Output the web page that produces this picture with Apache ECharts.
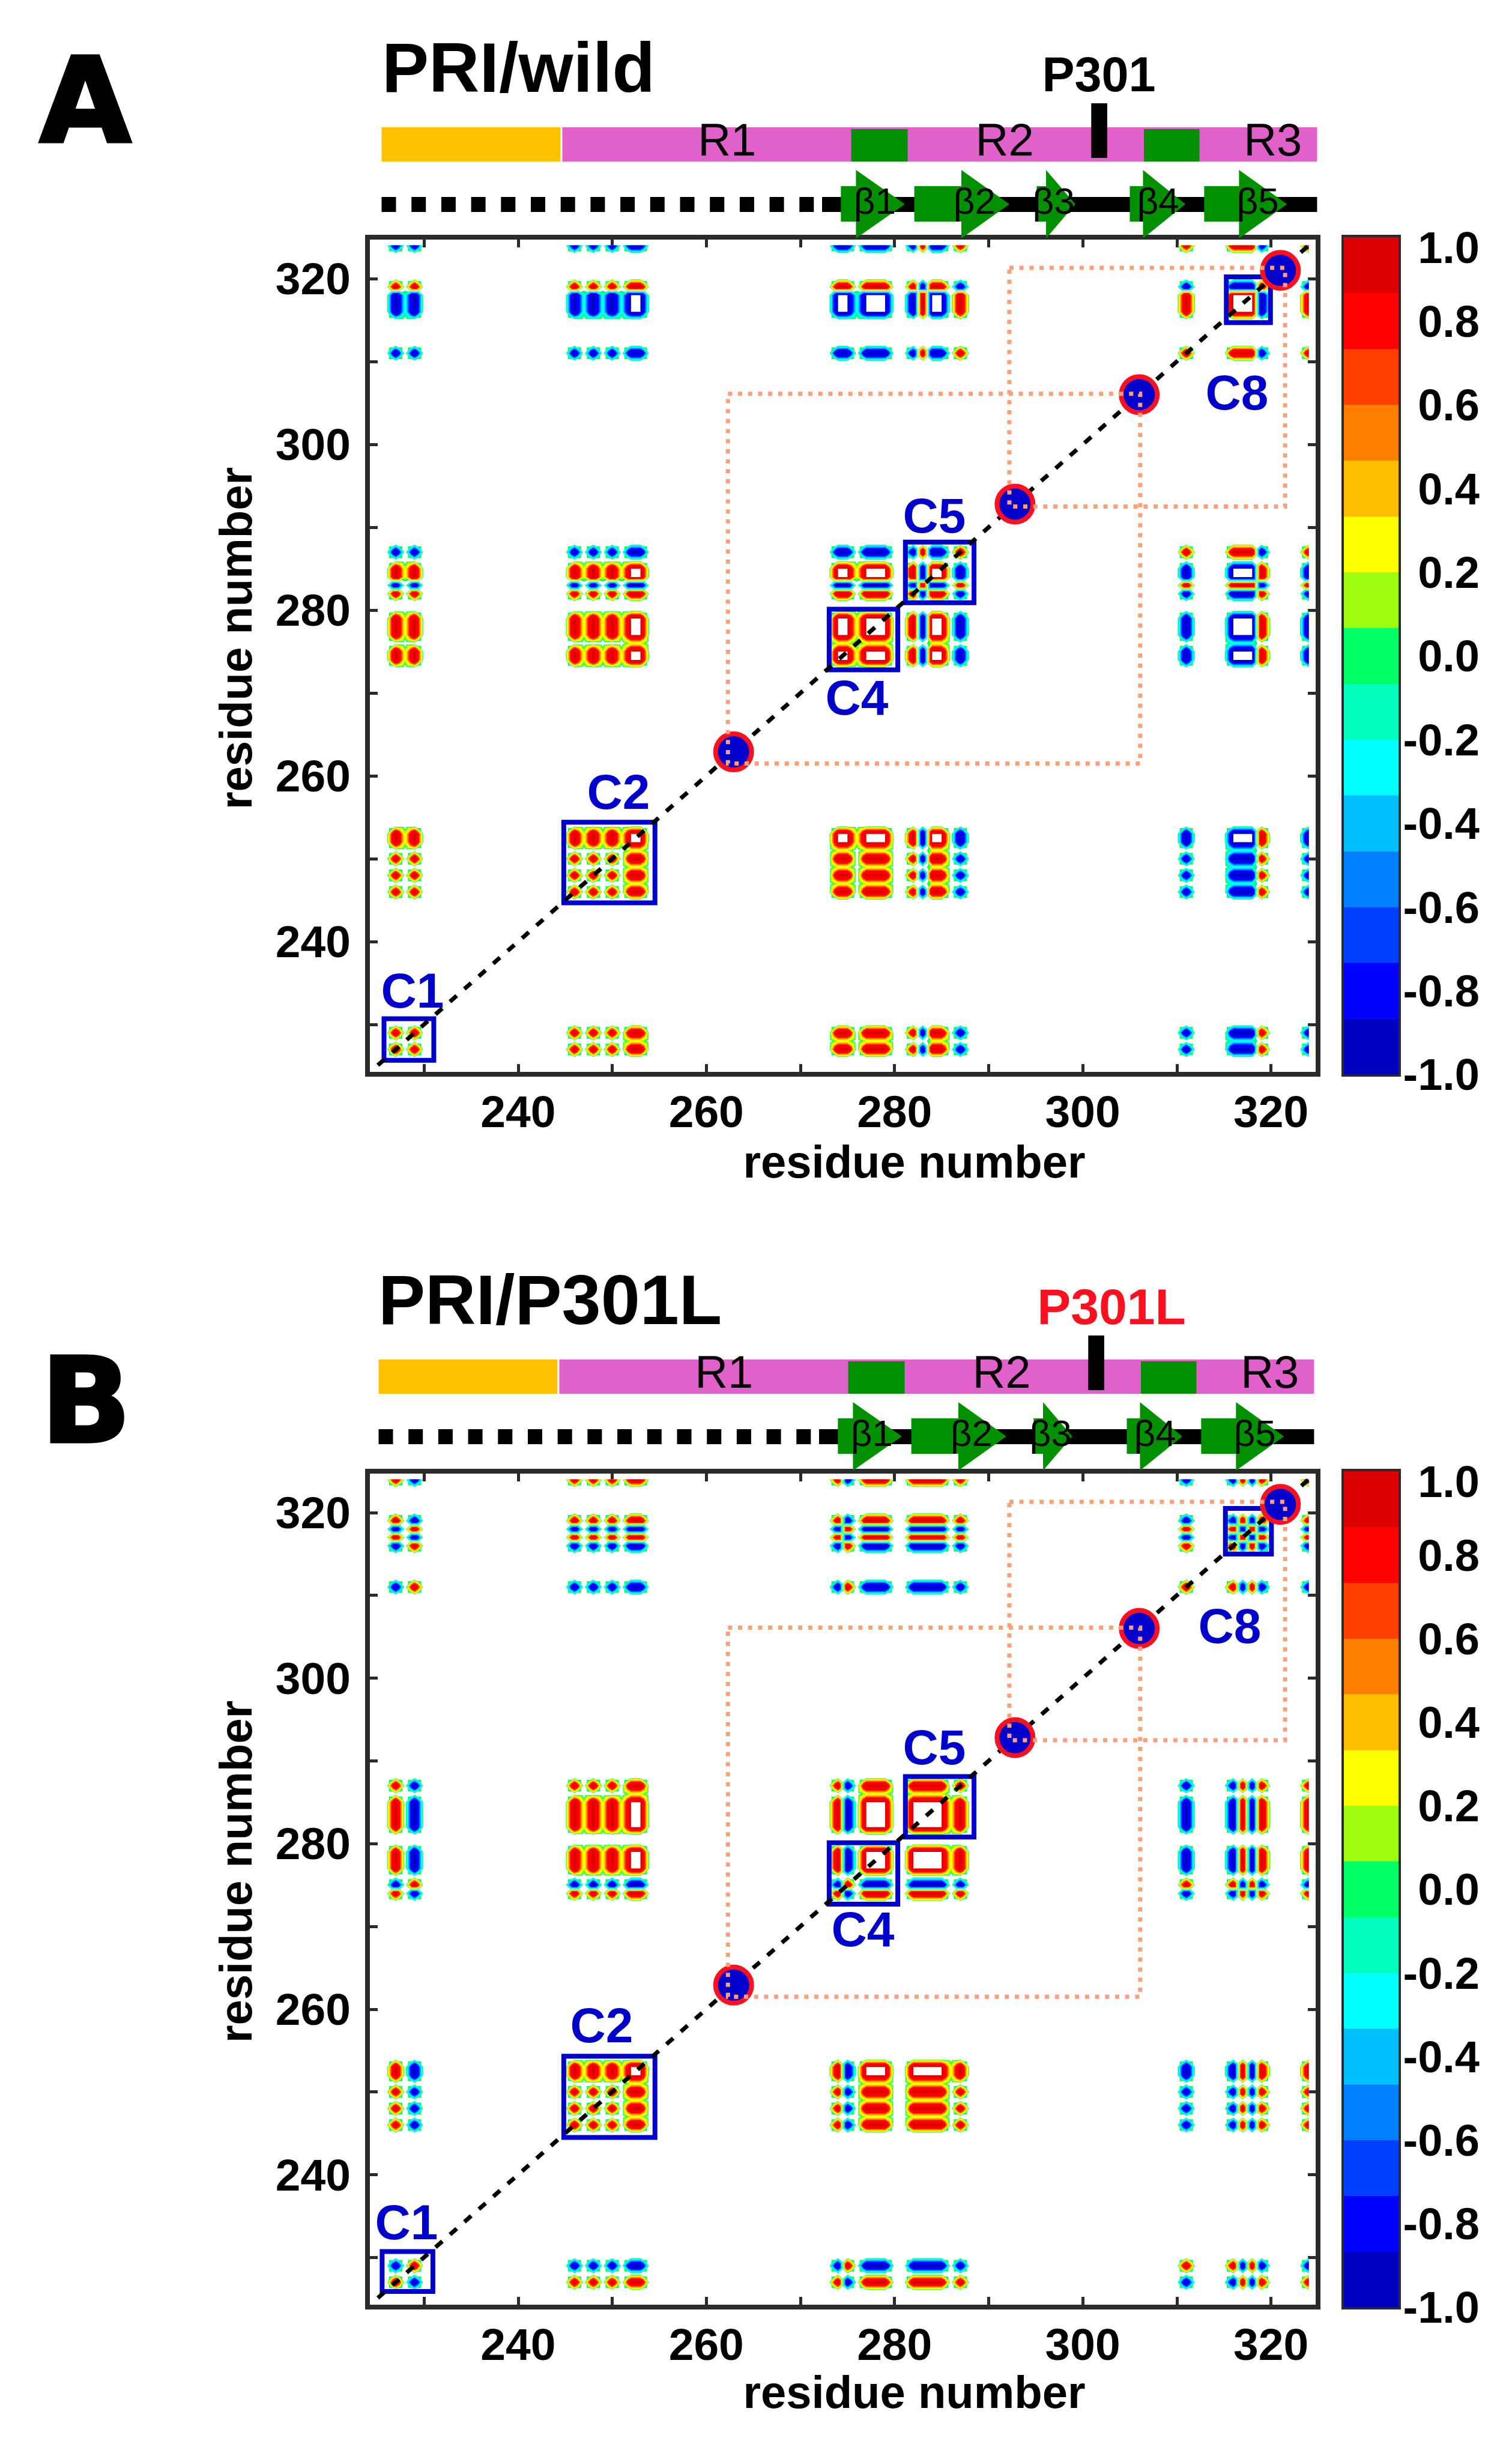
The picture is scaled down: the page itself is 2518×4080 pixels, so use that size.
<!DOCTYPE html>
<html><head><meta charset="utf-8">
<style>html,body{margin:0;padding:0;background:#fff}#c{width:2518px;height:4080px}</style>
<script src="https://cdn.jsdelivr.net/npm/echarts@6/dist/echarts.min.js"></script>
</head><body><div id="c"></div>
<script>
// ---- correlation pattern (residue, signed strength) ----
const residuesWild = [227,228,229,246,247,248,249,250,251,252,253,274,275,276,277,278,279,282,283,284,285,287,311,316,317,318,319,324];
const strengthWild = [1,.2,1,1,.2,1,.2,1,.2,1,1,1,1,.2,1,1,1,1,-1,1,1,-1,-1,-1,-1,-1,1,-1];
const residuesMutant = [227,229,246,247,248,249,250,251,252,253,274,275,277,278,279,282,283,284,285,286,287,311,316,317,318,319,324];
const strengthMutant = [1,-1,1,.2,1,.2,1,.2,1,1,1,-1,1,1,1,1,1,1,1,.2,1,-1,-1,1,-1,1,1];

// ---- colour scale ----
const scaleEdges = [-1,-0.867,-0.733,-0.6,-0.467,-0.333,-0.2,-0.067,0.067,0.2,0.333,0.467,0.6,0.733,0.867,1];
const scaleColors = ['#0000C0','#0000FF','#0040FF','#0080FF','#00BFFF','#00FFFF','#00FFBF','#00FF66','#A0FF10','#FFFF00','#FFBF00','#FF8000','#FF4000','#FF0000','#DC0000'];
const scaleTicks = [1,0.8,0.6,0.4,0.2,0,-0.2,-0.4,-0.6,-0.8,-1];
// strength at which each colour starts on the map, from the centre of the scale outwards
const contourStarts = [0.09,0.13,0.2,0.32,0.4,0.47,0.55,0.85];

// ---- axes ----
const axisTickValues = [230,240,250,260,270,280,290,300,310,320];
const axisLabelValues = [240,260,280,300,320];

// ---- sequence annotation (residue numbers) ----
const regionNames = ['', 'R1', 'R2', 'R3'];
const regionLabelAt = [0, 262.2, 291.7, 320.2];
const regionStart = [225.5, 244.7];
const regionEnd = [244.5, 324.9];
const repeatStart = [275.4, 306.5];
const repeatEnd = [281.4, 312.4];
const mutationStart = 300.9, mutationEnd = 302.6;
const coilStart = 225.5, coilEnd = 272, sheetLineStart = 272.3, sheetLineEnd = 324.9;
const strandNames = ['β1','β2','β3','β4','β5'];
const strandStart = [274.3,282.1,295.1,305,312.9];
const strandNeck = [275.9,287.1,296.1,306.4,316.6];
const strandTip = [281.1,292.2,299.2,310.9,321.7];
const strandLabelAt = [277.9,288.5,296.9,308,318.6];

// ---- overlays ----
const cavityResidues = [262.9,292.8,306,321];
const linkLeft = [262.3,292.2], linkRight = [306.1,321.5], linkBottom = [261.5,292.5], linkTop = [306.1,321.3];
const diagonalEnds = [225.1,324.7];
const boxNames = ['C1','C2','C4','C5','C8'];
const boxX0Wild = [225.5,244.6,272.8,280.9,315], boxX1Wild = [231.3,254.8,280.6,288.7,320.2];
const boxY0Wild = [225.4,244.4,272.5,280.6,314.4], boxY1Wild = [231,254.7,280.4,288.5,320.5];
const boxX0Mutant = [225.3,244.6,272.8,280.9,314.9], boxX1Mutant = [231.2,254.8,280.6,288.7,320.3];
const boxY0Mutant = [225.6,244.2,272.4,280.5,314.7], boxY1Mutant = [231,254.6,280.4,288.4,320.8];

const FONT = '"Liberation Sans", Arial, sans-serif';
const NARROW = '"Liberation Sans Narrow", "Liberation Sans", Arial, sans-serif';
const BLUE = '#0000CC', FRAME = '#2B2B2B';
const RES_MIN = 224, RES_MAX = 325, DATA_MIN = 225, DATA_MAX = 324;

function buildMatrix(res, str) {
  const amp = {}; res.forEach((r, k) => amp[r] = str[k]);
  const full = r => Math.abs(amp[r] || 0) === 1;
  // a weak residue only shows up next to a run of two or more strong neighbours
  const run = r => full(r) && (amp[r - 1] === amp[r] || amp[r + 1] === amp[r]);
  const m = {};
  for (let i = DATA_MIN; i <= DATA_MAX; i++) {
    m[i] = {};
    for (let j = DATA_MIN; j <= DATA_MAX; j++) {
      const a = amp[i] || 0, b = amp[j] || 0;
      let v = a * b;
      if ((Math.abs(a) < 1 && !run(j)) || (Math.abs(b) < 1 && !run(i))) v = 0;
      m[i][j] = v;
    }
  }
  return m;
}

// contour polygons, one compound path per colour level (each grid cell is split in four around its centre)
function levelPath(m, api, sign, L) {
  const xp = {}, yp = {};
  for (let i = DATA_MIN; i <= DATA_MAX; i++) { xp[i] = api.coord([i, RES_MIN])[0]; yp[i] = api.coord([RES_MIN, i])[1]; }
  const parts = [];
  for (let i = DATA_MIN; i < DATA_MAX; i++) for (let j = DATA_MIN; j < DATA_MAX; j++) {
    const f = [m[i][j], m[i + 1][j], m[i + 1][j + 1], m[i][j + 1]].map(v => v * sign);
    if (!f.some(v => v >= L)) continue;
    const c = [[xp[i], yp[j]], [xp[i + 1], yp[j]], [xp[i + 1], yp[j + 1]], [xp[i], yp[j + 1]]];
    const nonzero = f.filter(v => v !== 0).length;
    const avg = (f[0] + f[1] + f[2] + f[3]) / 4;
    const mid = nonzero === 1 ? avg * 0.6 : avg;
    const center = [(c[0][0] + c[2][0]) / 2, (c[0][1] + c[2][1]) / 2];
    for (let k = 0; k < 4; k++) {
      const n = (k + 1) % 4;
      const vs = [f[k], f[n], mid], ps = [c[k], c[n], center], pts = [];
      for (let a = 0; a < 3; a++) {
        const b = (a + 1) % 3, ia = vs[a] >= L, ib = vs[b] >= L;
        if (ia) pts.push(ps[a]);
        if (ia !== ib) {
          const t = (L - vs[a]) / (vs[b] - vs[a]);
          pts.push([ps[a][0] + t * (ps[b][0] - ps[a][0]), ps[a][1] + t * (ps[b][1] - ps[a][1])]);
        }
      }
      if (pts.length >= 3) parts.push('M' + pts.map(p => p[0].toFixed(2) + ' ' + p[1].toFixed(2)).join('L') + 'Z');
    }
  }
  return parts.join('');
}

const contourLevels = [];
(function () {
  const mid = Math.floor(scaleColors.length / 2);
  for (let k = 0; k <= mid; k++) {
    contourLevels.push([1, contourStarts[k], scaleColors[mid + k]]);
    contourLevels.push([-1, contourStarts[k], scaleColors[mid - k]]);
  }
  // the saturated plateau is left white
  contourLevels.push([1, 0.9995, '#FFFFFF'], [-1, 0.9995, '#FFFFFF']);
})();

const option = { backgroundColor: '#fff', animation: false, grid: [], xAxis: [], yAxis: [], series: [], graphic: [] };

function addAxisPair(list, spec) { list.push(spec); return list.length - 1; }

function text(t, x, y, size, opts) {
  opts = opts || {};
  const style = { text: t, fontSize: size, fontWeight: opts.weight || 'bold', fontFamily: opts.family || FONT,
    fill: opts.fill || '#000', align: opts.align || 'center', verticalAlign: 'middle' };
  if (opts.stroke) { style.stroke = opts.fill || '#000'; style.lineWidth = opts.stroke; }
  option.graphic.push({ type: 'text', x, y, z: 50, silent: true, style });
}

function panel(p) {
  const gMain = option.grid.length;
  const H = p.bottom - p.top, L = 612, W = 1583;
  option.grid.push({ left: L, top: p.top, width: W, height: H });
  const lineStyle = { show: true, onZero: false, lineStyle: { color: FRAME, width: 8, cap: 'square' } };
  const tick = { show: true, inside: true, length: 17, customValues: axisTickValues, lineStyle: { color: FRAME, width: 5 } };
  const label = { show: true, customValues: axisLabelValues, color: '#000', fontSize: 75, fontWeight: 'bold', fontFamily: FONT };
  const base = { type: 'value', gridIndex: gMain, min: RES_MIN, max: RES_MAX, splitLine: { show: false }, axisLine: lineStyle, axisTick: tick };
  const xBottom = addAxisPair(option.xAxis, Object.assign({}, base, {
    position: 'bottom', axisLabel: Object.assign({}, label, { margin: 30 }),
    name: 'residue number', nameLocation: 'middle', nameGap: p.xNameGap,
    nameTextStyle: { fontSize: 76, fontWeight: 'bold', fontFamily: FONT, color: '#000', padding: [0, 0, 0, 238] } }));
  addAxisPair(option.xAxis, Object.assign({}, base, { position: 'top', axisLabel: { show: false } }));
  const yLeft = addAxisPair(option.yAxis, Object.assign({}, base, {
    position: 'left', axisLabel: Object.assign({}, label, { margin: 28,
      formatter: v => '{n|' + v + '}',
      rich: { n: { fontSize: 75, fontWeight: 'bold', fontFamily: FONT, color: '#000', padding: [11, 0, 0, 0] } } }),
    name: 'residue number', nameLocation: 'middle', nameGap: 176, nameRotate: 90,
    nameTextStyle: { fontSize: 76, fontWeight: 'bold', fontFamily: FONT, color: '#000', padding: [0, 0, 0, 58] } }));
  addAxisPair(option.yAxis, Object.assign({}, base, { position: 'right', axisLabel: { show: false } }));

  const matrix = buildMatrix(p.residues, p.strength);
  option.series.push({
    type: 'custom', name: p.title + ' correlation', coordinateSystem: 'cartesian2d', xAxisIndex: xBottom, yAxisIndex: yLeft, z: 3, silent: true,
    clip: false, data: contourLevels.map((l, k) => [k]),
    renderItem(params, api) {
      const lv = contourLevels[params.dataIndex];
      const d = levelPath(matrix, api, lv[0], lv[1]);
      if (!d) return { type: 'group', children: [] };
      return { type: 'path', shape: { pathData: d }, style: { fill: lv[2] }, silent: true };
    }
  });
  // blue boxes
  option.series.push({
    type: 'custom', name: 'boxes', xAxisIndex: xBottom, yAxisIndex: yLeft, z: 4, silent: true, clip: false,
    data: boxNames.map((n, k) => [p.boxX0[k], p.boxY0[k], p.boxX1[k], p.boxY1[k]]),
    renderItem(params, api) {
      const a = api.coord([api.value(0), api.value(1)]), b = api.coord([api.value(2), api.value(3)]);
      return { type: 'rect', shape: { x: a[0] + 4, y: b[1] + 4, width: b[0] - a[0] - 8, height: a[1] - b[1] - 8 },
        style: { fill: 'none', stroke: BLUE, lineWidth: 8 } };
    }
  });
  // diagonal
  option.series.push({ type: 'line', name: 'diagonal', xAxisIndex: xBottom, yAxisIndex: yLeft, z: 5, silent: true, symbol: 'none', clip: false,
    data: diagonalEnds.map(v => [v, v]), lineStyle: { color: '#000', width: 7, type: [15, 17], cap: 'butt' } });
  // cavities
  option.series.push({ type: 'scatter', name: 'cavities', xAxisIndex: xBottom, yAxisIndex: yLeft, z: 6, silent: true, symbol: 'circle', symbolSize: 60, clip: false,
    data: cavityResidues.map(v => [v, v]), itemStyle: { color: BLUE, borderColor: '#FF1020', borderWidth: 8, opacity: 1 } });
  // dotted links
  option.series.push({
    type: 'custom', name: 'links', xAxisIndex: xBottom, yAxisIndex: yLeft, z: 7, silent: true, clip: false,
    data: linkLeft.map((v, k) => [v, linkRight[k], linkBottom[k], linkTop[k]]),
    renderItem(params, api) {
      const x0 = api.value(0), x1 = api.value(1), y0 = api.value(2), y1 = api.value(3);
      const pts = [[x0, y1], [x1, y1], [x1, y0], [x0, y0], [x0, y1]].map(q => api.coord(q));
      return { type: 'polyline', shape: { points: pts }, style: { fill: 'none', stroke: '#FFA07A', lineWidth: 7, lineDash: [7, 9.7] } };
    }
  });

  // colour bar
  const gBar = option.grid.length;
  option.grid.push({ left: 2238, top: p.top, width: 91, height: H });
  const barLine = { show: true, onZero: false, lineStyle: { color: FRAME, width: 8, cap: 'square' } };
  const barX = addAxisPair(option.xAxis, { type: 'value', gridIndex: gBar, min: 0, max: 1, position: 'bottom', axisLine: barLine, axisTick: { show: false }, axisLabel: { show: false }, splitLine: { show: false } });
  addAxisPair(option.xAxis, { type: 'value', gridIndex: gBar, min: 0, max: 1, position: 'top', axisLine: barLine, axisTick: { show: false }, axisLabel: { show: false }, splitLine: { show: false } });
  const barY = addAxisPair(option.yAxis, { type: 'value', gridIndex: gBar, min: -1, max: 1, position: 'right', axisLine: barLine, axisTick: { show: false }, splitLine: { show: false },
    axisLabel: { show: true, customValues: scaleTicks, align: 'right', margin: 135, color: '#000', fontSize: 74, fontWeight: 'bold', fontFamily: FONT, padding: [12, 0, 0, 0],
      formatter: v => v >= 0.999 ? '{top|1.0}' : v.toFixed(1),
      rich: { top: { fontSize: 74, fontWeight: 'bold', fontFamily: FONT, color: '#000', padding: [34, 0, 0, 0] } } } });
  addAxisPair(option.yAxis, { type: 'value', gridIndex: gBar, min: -1, max: 1, position: 'left', axisLine: barLine, axisTick: { show: false }, axisLabel: { show: false }, splitLine: { show: false } });
  option.series.push({
    type: 'custom', name: 'colour scale', xAxisIndex: barX, yAxisIndex: barY, z: 1, silent: true, clip: false,
    data: scaleColors.map((c, k) => [scaleEdges[k], scaleEdges[k + 1]]),
    renderItem(params, api) {
      const a = api.coord([0, api.value(0)]), b = api.coord([1, api.value(1)]);
      return { type: 'rect', shape: { x: a[0], y: b[1], width: b[0] - a[0], height: a[1] - b[1] + 0.5 }, style: { fill: scaleColors[params.dataIndex] } };
    }
  });

  // sequence header, shares the residue scale of the map
  const gHead = option.grid.length, headH = 240, dy = p.headDy;
  option.grid.push({ left: L, top: p.top - headH, width: W, height: headH });
  const hide = { type: 'value', gridIndex: gHead, show: false, splitLine: { show: false } };
  const hx = addAxisPair(option.xAxis, Object.assign({}, hide, { min: RES_MIN + p.headShift, max: RES_MAX + p.headShift }));
  const hy = addAxisPair(option.yAxis, Object.assign({}, hide, { min: 0, max: 1 }));
  const band = (f, y0, y1, api, x0, x1, fill) => {
    const bottom = f.y + headH + dy;
    const a = api.coord([x0, 0])[0], b = api.coord([x1, 0])[0];
    return { type: 'rect', shape: { x: a, y: bottom + y0, width: b - a, height: y1 - y0 }, style: { fill } };
  };
  option.series.push({
    type: 'custom', name: 'domains', xAxisIndex: hx, yAxisIndex: hy, z: 8, silent: true, clip: false, data: [[0]],
    renderItem(params, api) {
      const f = params.coordSys, bottom = f.y + headH + dy, kids = [];
      regionStart.forEach((s, k) => kids.push(band(f, -183, -126, api, s, regionEnd[k], k ? '#E161CB' : '#FFC000')));
      repeatStart.forEach((s, k) => kids.push(band(f, -180, -126, api, s, repeatEnd[k], '#009000')));
      regionNames.forEach((n, k) => { if (n) kids.push({ type: 'text', x: api.coord([regionLabelAt[k], 0])[0], y: bottom - 157,
        style: { text: n, fontSize: 76, fontFamily: NARROW, fill: '#000', align: 'center', verticalAlign: 'middle' } }); });
      kids.push(band(f, -223, -132, api, mutationStart, mutationEnd, '#000'));
      // coil
      const coilY = bottom - 54.5;
      kids.push({ type: 'line', shape: { x1: api.coord([coilStart, 0])[0], y1: coilY, x2: api.coord([coilEnd, 0])[0], y2: coilY }, style: { stroke: '#000', lineWidth: 25, lineDash: [24, 25.7] } });
      kids.push({ type: 'line', shape: { x1: api.coord([sheetLineStart, 0])[0], y1: coilY, x2: api.coord([sheetLineEnd, 0])[0], y2: coilY }, style: { stroke: '#000', lineWidth: 25 } });
      // strands
      strandStart.forEach((s, k) => {
        const a = api.coord([s, 0])[0], n = api.coord([strandNeck[k], 0])[0], t = api.coord([strandTip[k], 0])[0];
        kids.push({ type: 'polygon', shape: { points: [[a, bottom - 85], [n, bottom - 85], [n, bottom - 112], [t, bottom - 55], [n, bottom + 2], [n, bottom - 26], [a, bottom - 26]] }, style: { fill: '#009000' } });
        kids.push({ type: 'text', x: api.coord([strandLabelAt[k], 0])[0], y: bottom - 56,
          style: { text: strandNames[k], fontSize: 62, fontFamily: NARROW, fill: '#000', align: 'center', verticalAlign: 'middle' } });
      });
      return { type: 'group', children: kids };
    }
  });

  // texts
  text(p.letter, p.letterX, p.letterY, 197, { family: '"DejaVu Sans", sans-serif', stroke: 5 });
  text(p.title, p.titleX, p.titleY, 117, { align: 'left' });
  text(p.mutation, p.mutX, p.mutY, p.mutSize, { fill: p.mutFill });
  boxNames.forEach((n, k) => text(n, p.labels[k][0], p.labels[k][1], 82, { fill: BLUE }));
}

panel({ letter: 'A', letterX: 142, letterY: 185, title: 'PRI/wild', titleX: 636, titleY: 121, mutation: 'P301', mutX: 1830, mutY: 130, mutSize: 81, mutFill: '#000',
  top: 395, bottom: 1789, residues: residuesWild, strength: strengthWild, xNameGap: 113, headShift: 0, headDy: 0,
  boxX0: boxX0Wild, boxX1: boxX1Wild, boxY0: boxY0Wild, boxY1: boxY1Wild,
  labels: [[687, 1655], [1030, 1324], [1427, 1167], [1556, 864], [2060, 659]] });
panel({ letter: 'B', letterX: 143, letterY: 2350, title: 'PRI/P301L', titleX: 630, titleY: 2173, mutation: 'P301L', mutX: 1851, mutY: 2182, mutSize: 84, mutFill: '#FF1020',
  top: 2450, bottom: 3842, residues: residuesMutant, strength: strengthMutant, xNameGap: 109, headShift: 0.32, headDy: -3,
  boxX0: boxX0Mutant, boxX1: boxX1Mutant, boxY0: boxY0Mutant, boxY1: boxY1Mutant,
  labels: [[677, 3706], [1002, 3378], [1437, 3218], [1556, 2915], [2048, 2713]] });

const chart = echarts.init(document.getElementById('c'), null, { renderer: 'canvas', width: 2518, height: 4080 });
chart.setOption(option);
</script></body></html>
